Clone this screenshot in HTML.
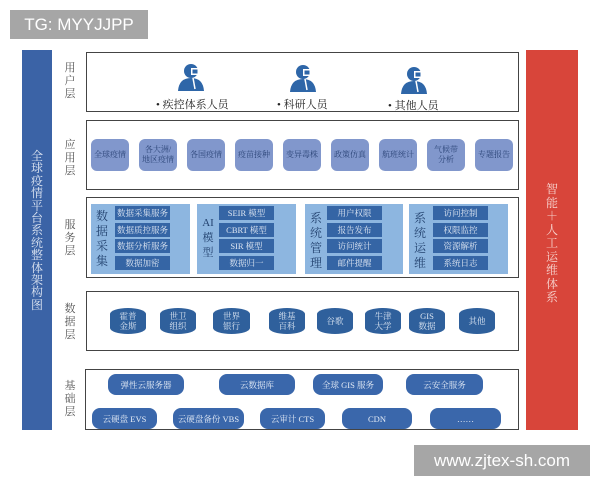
<!DOCTYPE html>
<html><head><meta charset="utf-8"><style>
body{margin:0;width:600px;height:480px;background:#fff;position:relative;overflow:hidden;font-family:"Liberation Serif","Noto Serif CJK SC",serif;}
div{position:absolute;box-sizing:border-box;}
.c{display:flex;align-items:center;justify-content:center;text-align:center;}
.lay{border:1.5px solid #444;background:#fff;}
.side{left:62px;width:16px;font-size:11px;line-height:13px;color:#555;text-align:center;}
.app{top:139px;width:38px;height:32px;background:#8197cc;border-radius:6px;font-size:8px;line-height:10px;color:#2b4477;}
.grp{top:204px;height:70px;background:#8db6e0;}
.it{width:55px;height:14px;background:#3565a5;color:#dfe7f3;font-size:8.5px;}
.gl{width:14px;font-size:12px;line-height:15px;color:#23426f;text-align:center;}
.cyl{top:308px;height:26px;background:#2f609c;border-radius:50%/6px;color:#dbe5f2;font-size:8.5px;line-height:10px;}
.bs{height:21px;background:#3a67ab;border-radius:8px;color:#e6edf7;font-size:8.5px;}
.u{top:96px;font-size:11px;color:#222;}
</style></head><body>
<div class="c" style="left:10px;top:10px;width:138px;height:29px;background:#a6a6a6;color:#fff;font-family:'Liberation Sans',sans-serif;font-size:17px;">TG: MYYJJPP</div>
<div style="left:22px;top:50px;width:30px;height:380px;background:#3b63a6;"></div>
<div style="left:29px;top:150px;width:16px;color:#dfe6f2;font-size:12px;line-height:12.4px;text-align:center;">全球疫情平台系统整体架构图</div>
<div style="left:526px;top:50px;width:52px;height:380px;background:#d8453a;"></div>
<div style="left:545px;top:183px;width:14px;color:#f6d4cf;font-size:12px;line-height:13.5px;text-align:center;">智能＋人工运维体系</div>

<div class="side" style="top:62px;">用户层</div>
<div class="side" style="top:139px;">应用层</div>
<div class="side" style="top:219px;">服务层</div>
<div class="side" style="top:303px;">数据层</div>
<div class="side" style="top:380px;">基础层</div>

<div class="lay" style="left:86px;top:52px;width:433px;height:60px;"></div>
<div class="lay" style="left:86px;top:120px;width:433px;height:70px;"></div>
<div class="lay" style="left:86px;top:197px;width:433px;height:81px;"></div>
<div class="lay" style="left:86px;top:291px;width:433px;height:60px;"></div>
<div class="lay" style="left:85px;top:369px;width:434px;height:61px;"></div>

<svg style="position:absolute;left:0;top:0" width="600" height="480">
<g fill="#2e66a8">
<g transform="translate(191,65)"><circle cx="0" cy="6" r="7"/><path d="M-13 26 Q-12 13 0 13 Q12 13 13 26Z"/><rect x="0" y="3" width="8" height="7" fill="#fff"/><rect x="1.5" y="4.5" width="5" height="4"/><line x1="2" y1="13" x2="4" y2="24" stroke="#fff" stroke-width="1.5"/></g>
<g transform="translate(303,66)"><circle cx="0" cy="6" r="7"/><path d="M-13 26 Q-12 13 0 13 Q12 13 13 26Z"/><rect x="0" y="3" width="8" height="7" fill="#fff"/><rect x="1.5" y="4.5" width="5" height="4"/><line x1="2" y1="13" x2="4" y2="24" stroke="#fff" stroke-width="1.5"/></g>
<g transform="translate(414,68)"><circle cx="0" cy="6" r="7"/><path d="M-13 26 Q-12 13 0 13 Q12 13 13 26Z"/><rect x="0" y="3" width="8" height="7" fill="#fff"/><rect x="1.5" y="4.5" width="5" height="4"/><line x1="2" y1="13" x2="4" y2="24" stroke="#fff" stroke-width="1.5"/></g>
</g></svg>
<div class="u" style="left:156px;">• 疾控体系人员</div>
<div class="u" style="left:277px;">• 科研人员</div>
<div class="u" style="left:388px;top:97px;">• 其他人员</div>

<div class="app c" style="left:91px;">全球疫情</div>
<div class="app c" style="left:139px;">各大洲/<br>地区疫情</div>
<div class="app c" style="left:187px;">各国疫情</div>
<div class="app c" style="left:235px;">疫苗接种</div>
<div class="app c" style="left:283px;">变异毒株</div>
<div class="app c" style="left:331px;">政策仿真</div>
<div class="app c" style="left:379px;">航班统计</div>
<div class="app c" style="left:427px;">气候带<br>分析</div>
<div class="app c" style="left:475px;">专题报告</div>

<div class="grp" style="left:91px;width:99px;"></div>
<div class="grp" style="left:197px;width:99px;"></div>
<div class="grp" style="left:305px;width:98px;"></div>
<div class="grp" style="left:409px;width:99px;"></div>
<div class="gl" style="left:95px;top:209px;">数据采集</div>
<div class="gl" style="left:201px;top:216px;font-size:11px;">AI<br>模型</div>
<div class="gl" style="left:309px;top:211px;">系统管理</div>
<div class="gl" style="left:413px;top:211px;">系统运维</div>
<div class="it c" style="left:115px;top:206px;">数据采集服务</div>
<div class="it c" style="left:115px;top:223px;">数据质控服务</div>
<div class="it c" style="left:115px;top:239px;">数据分析服务</div>
<div class="it c" style="left:115px;top:256px;">数据加密</div>
<div class="it c" style="left:219px;top:206px;">SEIR 模型</div>
<div class="it c" style="left:219px;top:223px;">CBRT 模型</div>
<div class="it c" style="left:219px;top:239px;">SIR 模型</div>
<div class="it c" style="left:219px;top:256px;">数据归一</div>
<div class="it c" style="left:327px;top:206px;">用户权限</div>
<div class="it c" style="left:327px;top:223px;">报告发布</div>
<div class="it c" style="left:327px;top:239px;">访问统计</div>
<div class="it c" style="left:327px;top:256px;">邮件提醒</div>
<div class="it c" style="left:433px;top:206px;">访问控制</div>
<div class="it c" style="left:433px;top:223px;">权限监控</div>
<div class="it c" style="left:433px;top:239px;">资源解析</div>
<div class="it c" style="left:433px;top:256px;">系统日志</div>

<div class="cyl c" style="left:110px;width:36px;">霍普<br>金斯</div>
<div class="cyl c" style="left:160px;width:36px;">世卫<br>组织</div>
<div class="cyl c" style="left:213px;width:37px;">世界<br>银行</div>
<div class="cyl c" style="left:269px;width:36px;">维基<br>百科</div>
<div class="cyl c" style="left:317px;width:36px;">谷歌</div>
<div class="cyl c" style="left:365px;width:36px;">牛津<br>大学</div>
<div class="cyl c" style="left:409px;width:36px;">GIS<br>数据</div>
<div class="cyl c" style="left:459px;width:36px;">其他</div>

<div class="bs c" style="left:108px;top:374px;width:76px;">弹性云服务器</div>
<div class="bs c" style="left:219px;top:374px;width:76px;">云数据库</div>
<div class="bs c" style="left:313px;top:374px;width:70px;">全球 GIS 服务</div>
<div class="bs c" style="left:406px;top:374px;width:77px;">云安全服务</div>
<div class="bs c" style="left:92px;top:408px;width:65px;">云硬盘 EVS</div>
<div class="bs c" style="left:173px;top:408px;width:71px;">云硬盘备份 VBS</div>
<div class="bs c" style="left:260px;top:408px;width:65px;">云审计 CTS</div>
<div class="bs c" style="left:342px;top:408px;width:70px;">CDN</div>
<div class="bs c" style="left:430px;top:408px;width:71px;">……</div>

<div class="c" style="left:414px;top:445px;width:176px;height:31px;background:#a6a6a6;color:#fff;font-family:'Liberation Sans',sans-serif;font-size:17px;">www.zjtex-sh.com</div>
</body></html>
